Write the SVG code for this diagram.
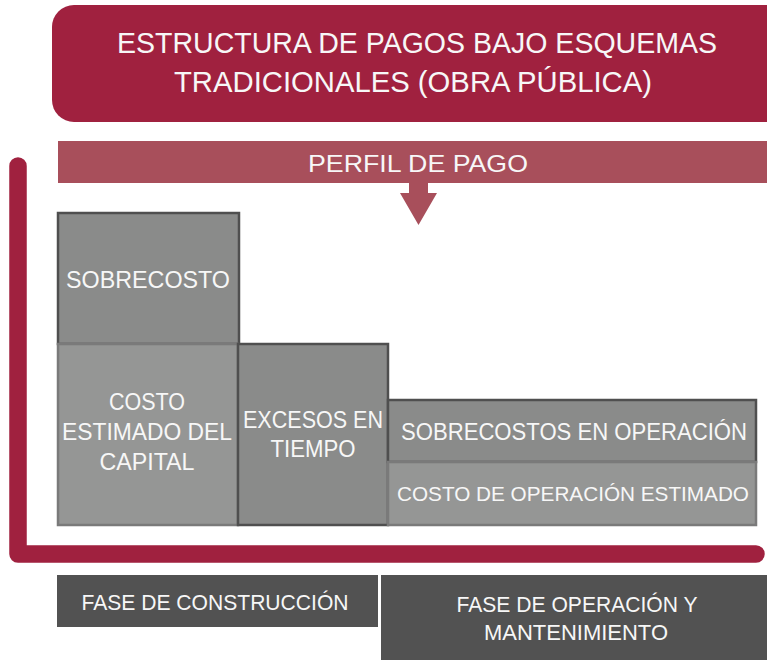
<svg xmlns="http://www.w3.org/2000/svg" width="767" height="660" viewBox="0 0 767 660">
<style>
.t{font-family:"Liberation Sans",Arial,sans-serif;fill:#F7F7F7;text-anchor:middle}
.dk{fill:#8A8B8A;stroke:#4F4F4F;stroke-width:2.5}
.lt{fill:#959695;stroke:#7A7A7A;stroke-width:2.5}
.ph{fill:#525252}
</style>
<rect width="767" height="660" fill="#FFFFFF"/>
<g id="title">
<rect x="52" y="5" width="740" height="117" rx="22" fill="#A0213F"/>
<text class="t" x="417" y="53" font-size="29" textLength="600" lengthAdjust="spacingAndGlyphs">ESTRUCTURA DE PAGOS BAJO ESQUEMAS</text>
<text class="t" x="413" y="92" font-size="29" textLength="478" lengthAdjust="spacingAndGlyphs">TRADICIONALES (OBRA PÚBLICA)</text>
</g>
<g id="perfil">
<rect x="58" y="141" width="712" height="42" fill="#A84F5B"/>
<text class="t" x="418" y="172" font-size="24" textLength="220" lengthAdjust="spacingAndGlyphs">PERFIL DE PAGO</text>
</g>
<g id="connectors">
<path d="M409,183 H428 V193 H437 L418.5,225 L400,193 H409 Z" fill="#A84F5B"/>
<path d="M18,166 V554 H756" fill="none" stroke="#A0213F" stroke-width="17.5" stroke-linecap="round" stroke-linejoin="round"/>
</g>
<g id="sobrecosto">
<rect class="dk" x="58" y="213" width="181" height="131"/>
<text class="t" x="148" y="288" font-size="24" textLength="164" lengthAdjust="spacingAndGlyphs">SOBRECOSTO</text>
</g>
<g id="costo-capital">
<rect class="lt" x="58" y="344" width="180" height="181"/>
<text class="t" x="147" y="410" font-size="24" textLength="76" lengthAdjust="spacingAndGlyphs">COSTO</text>
<text class="t" x="147" y="440" font-size="24" textLength="170" lengthAdjust="spacingAndGlyphs">ESTIMADO DEL</text>
<text class="t" x="147" y="470" font-size="24" textLength="95" lengthAdjust="spacingAndGlyphs">CAPITAL</text>
</g>
<g id="excesos">
<rect class="dk" x="238" y="344" width="150" height="181"/>
<text class="t" x="313" y="428" font-size="24" textLength="140" lengthAdjust="spacingAndGlyphs">EXCESOS EN</text>
<text class="t" x="313" y="457" font-size="24" textLength="85" lengthAdjust="spacingAndGlyphs">TIEMPO</text>
</g>
<g id="sobrecostos-operacion">
<rect class="dk" x="388" y="400" width="368" height="62"/>
<text class="t" x="574" y="440" font-size="23" textLength="346" lengthAdjust="spacingAndGlyphs">SOBRECOSTOS EN OPERACIÓN</text>
</g>
<g id="costo-operacion">
<rect class="lt" x="388" y="462" width="368" height="63"/>
<text class="t" x="573" y="501" font-size="21" textLength="352" lengthAdjust="spacingAndGlyphs">COSTO DE OPERACIÓN ESTIMADO</text>
</g>
<g id="fase-construccion">
<rect class="ph" x="57" y="575" width="321" height="52"/>
<text class="t" x="215" y="610" font-size="22" textLength="267" lengthAdjust="spacingAndGlyphs">FASE DE CONSTRUCCIÓN</text>
</g>
<g id="fase-operacion">
<rect class="ph" x="381" y="575" width="390" height="90"/>
<text class="t" x="577" y="612" font-size="22" textLength="241" lengthAdjust="spacingAndGlyphs">FASE DE OPERACIÓN Y</text>
<text class="t" x="576" y="640" font-size="22" textLength="184" lengthAdjust="spacingAndGlyphs">MANTENIMIENTO</text>
</g>
</svg>
